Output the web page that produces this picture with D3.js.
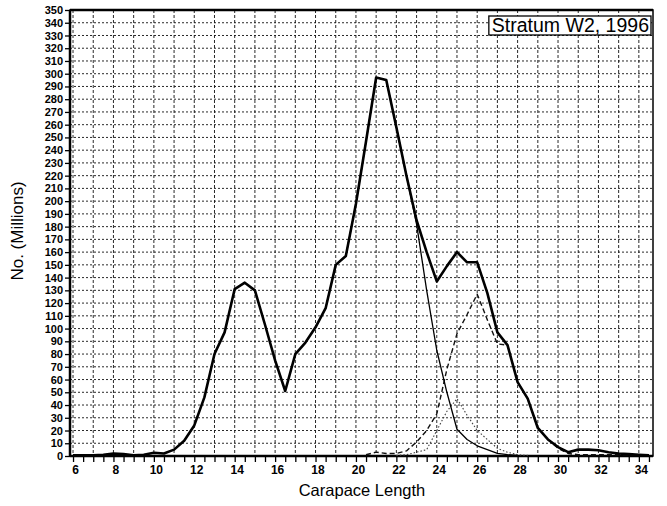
<!DOCTYPE html>
<html>
<head>
<meta charset="utf-8">
<script src="https://cdn.jsdelivr.net/npm/d3@7/dist/d3.min.js"></script>
<style>
  html, body { margin: 0; padding: 0; background: #fff; }
  svg { display: block; font-family: "Liberation Sans", Arial, sans-serif; }
</style>
</head>
<body>
<svg id="chart" width="667" height="506"></svg>
<script>
// ---- Data ----
const lengths = [6,6.5,7,7.5,8,8.5,9,9.5,10,10.5,11,11.5,12,12.5,13,13.5,14,14.5,15,15.5,16,16.5,17,17.5,18,18.5,19,19.5,20,20.5,21,21.5,22,22.5,23,23.5,24,24.5,25,25.5,26,26.5,27,27.5,28,28.5,29,29.5,30,30.5,31,31.5,32,32.5,33,33.5,34,34.5];
const total =   [0.5,0.5,0.5,1,2,1.5,0.5,1,2.5,2,5,12,24,46,80,97,131,136,130,103,75,51,80,89,101,116,150,157,198,247,297,295,258,220,185,160,137,149,160,152,152,128,97,87,58,45,22,13,7,3,5,5,4.5,3,2,1.5,1,0.5];

const comp1Lengths = [18,18.5,19,19.5,20,20.5,21,21.5,22,22.5,23,23.5,24,24.5,25,25.5,26,26.5,27,27.5,28];
const comp1 =        [101,116,150,157,198,247,297,295,258,220,182,130,83,50,21,13,8,5,2,1,0.5];

const comp2Lengths = [20.5,21,21.5,22,22.5,23,23.5,24,24.5,25,25.5,26,26.5,27,27.5,28,28.5,29,29.5,30,30.5,31,31.5,32,32.5,33,33.5,34];
const comp2 =        [1,3,2,2,4,11,20,33,68,96,111,127,107,88,87,58,45,22,13,6,2,1,1,1,1,1,1,0.5];

const comp3Lengths = [22,22.5,23,23.5,24,24.5,25,25.5,26,26.5,27,27.5,28,28.5];
const comp3 =        [0.5,1,3,5,20,35,45,32,20,13,6,3,1,0.5];

const xTickLabels = [6,8,10,12,14,16,18,20,22,24,26,28,30,32,34];
const yTickValues = [0,10,20,30,40,50,60,70,80,90,100,110,120,130,140,150,160,170,180,190,200,210,220,230,240,250,260,270,280,290,300,310,320,330,340,350];
const legendText = "Stratum W2, 1996";
const xTitle = "Carapace Length";
const yTitle = "No. (Millions)";

// ---- Layout ----
const svg = d3.select("#chart");
const pL = 70, pR = 653, pT = 10, pB = 456;
const x = d3.scaleLinear().domain([5.85, 34.7]).range([pL, pR]);
const y = d3.scaleLinear().domain([0, 350]).range([pB, pT]);

// grid
const gridG = svg.append("g");
const vGrid = d3.range(6, 35, 1);
gridG.selectAll("line.v").data(vGrid).join("line")
  .attr("x1", d => x(d)).attr("x2", d => x(d))
  .attr("y1", pT).attr("y2", pB)
  .attr("stroke", "#111").attr("stroke-width", 0.9)
  .attr("stroke-dasharray", "3,2");
gridG.selectAll("line.h").data(yTickValues.filter(d => d > 0 && d < 350)).join("line")
  .attr("x1", pL).attr("x2", pR)
  .attr("y1", d => y(d)).attr("y2", d => y(d))
  .attr("stroke", "#111").attr("stroke-width", 0.9)
  .attr("stroke-dasharray", "2,2");

// axes
const yAxis = d3.axisLeft(y).tickValues(yTickValues).tickSize(5).tickPadding(2);
const yG = svg.append("g").attr("transform", `translate(${pL},0)`).call(yAxis);
yG.select(".domain").remove();
yG.selectAll("line").attr("stroke", "#000").attr("stroke-width", 1.3);
yG.selectAll("text").attr("font-size", "11px").attr("font-weight", "bold")
  .attr("font-family", "'Liberation Sans', Arial, sans-serif").attr("fill", "#000");

const xMinor = d3.range(6, 35, 0.5);
const xAxis = d3.axisBottom(x).tickValues(xMinor).tickSize(6).tickPadding(3)
  .tickFormat(d => xTickLabels.includes(d) ? d : "");
const xG = svg.append("g").attr("transform", `translate(0,${pB})`).call(xAxis);
xG.select(".domain").remove();
xG.selectAll("line").attr("stroke", "#000").attr("stroke-width", 1.3);
xG.selectAll("text").attr("font-size", "12px").attr("font-weight", "bold")
  .attr("font-family", "'Liberation Sans', Arial, sans-serif").attr("fill", "#000")
  .attr("dx", "2");

// frame
svg.append("rect").attr("x", pL).attr("y", pT).attr("width", pR - pL).attr("height", pB - pT)
  .attr("fill", "none").attr("stroke", "#000").attr("stroke-width", 1.5);
svg.append("line").attr("x1", pL).attr("x2", pL).attr("y1", pT).attr("y2", pB)
  .attr("stroke", "#000").attr("stroke-width", 2.5);
svg.append("line").attr("x1", pL).attr("x2", pR).attr("y1", pB).attr("y2", pB)
  .attr("stroke", "#000").attr("stroke-width", 2.5);
svg.append("line").attr("x1", pL).attr("x2", pR).attr("y1", pT).attr("y2", pT)
  .attr("stroke", "#000").attr("stroke-width", 2.5);

// lines
const line = d3.line().x(d => x(d[0])).y(d => y(d[1]));
function draw(xs, ys, w, dash, color) {
  svg.append("path").datum(xs.map((v, i) => [v, ys[i]]))
    .attr("d", line).attr("fill", "none").attr("stroke", color)
    .attr("stroke-width", w).attr("stroke-linejoin", "round")
    .attr("stroke-dasharray", dash);
}
draw(comp3Lengths, comp3, 1.1, "1.5,2", "#444");
draw(comp2Lengths, comp2, 1.4, "5,3", "#111");
draw(comp1Lengths, comp1, 1.3, null, "#000");
draw(lengths, total, 2.6, null, "#000");

// legend box
const lg = svg.append("g");
const lt = lg.append("text").attr("x", 649).attr("y", 32).attr("text-anchor", "end")
  .attr("font-size", "19.5px").attr("fill", "#000").text(legendText);
const bb = lt.node().getBBox();
lg.insert("rect", "text").attr("x", bb.x - 3).attr("y", bb.y + 2).attr("width", bb.width + 5).attr("height", bb.height - 3)
  .attr("fill", "#fff").attr("stroke", "#000").attr("stroke-width", 1.3);

// titles
svg.append("text").attr("x", 362).attr("y", 496).attr("text-anchor", "middle")
  .attr("font-size", "16.5px").attr("fill", "#000").text(xTitle);
svg.append("text").attr("transform", "translate(23,231) rotate(-90)").attr("text-anchor", "middle")
  .attr("font-size", "17px").attr("fill", "#000").text(yTitle);
</script>
</body>
</html>
